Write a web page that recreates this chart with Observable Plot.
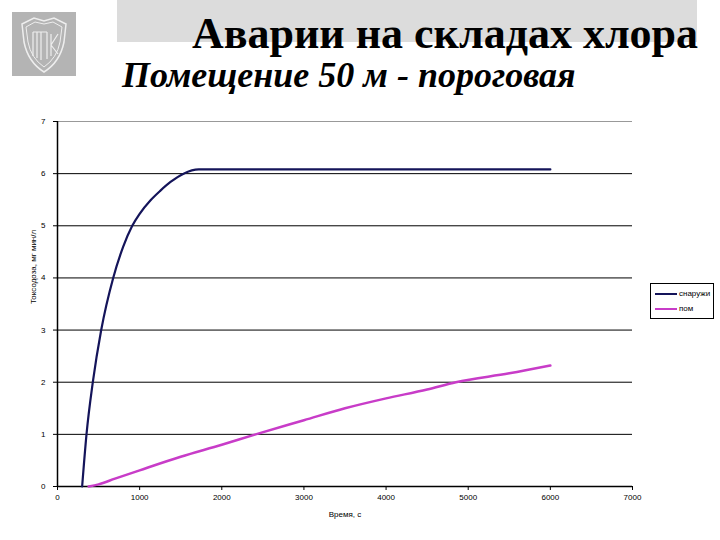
<!DOCTYPE html>
<html>
<head>
<meta charset="utf-8">
<script src="https://cdn.jsdelivr.net/npm/d3@7"></script>
<script src="https://cdn.jsdelivr.net/npm/@observablehq/plot@0.6"></script>
<style>
  html, body { margin: 0; padding: 0; background: #fff; }
  #wrap { position: relative; width: 720px; height: 540px; overflow: hidden; background: #fff; }
  #band { position: absolute; left: 117px; top: 0; width: 580px; height: 42px; background: #dcdcdc; }
  #title { position: absolute; left: 192px; top: 12px; font-family: "Liberation Serif", "DejaVu Serif", serif; font-weight: bold; font-size: 44px; color: #000; white-space: nowrap; line-height: 1; }
  #subtitle { position: absolute; left: 122px; top: 57px; font-family: "Liberation Serif", "DejaVu Serif", serif; font-weight: bold; font-style: italic; font-size: 36px; color: #000; white-space: nowrap; line-height: 1; }
  #logo { position: absolute; left: 12px; top: 12px; }
  #chart { position: absolute; left: 0; top: 0; }
  #legend { position: absolute; left: 650px; top: 283px; width: 64px; height: 36px; border: 1px solid #000; box-sizing: border-box; background: #fff; font-family: "Liberation Sans", Arial, sans-serif; font-size: 8px; }
  .li { position: absolute; left: 4px; display: flex; align-items: center; }
  .sw { width: 22px; height: 2px; margin-right: 2px; }
</style>
</head>
<body>
<div id="wrap">
  <div id="band"></div>
  <svg id="logo" width="64" height="64" viewBox="0 0 64 64">
    <rect x="0" y="0" width="64" height="64" fill="#b4b4b4"/>
    <path d="M10 12 L22 6 L32 9 L42 6 L54 12 L52 30 Q48 50 32 60 Q16 50 12 30 Z" fill="none" stroke="#eee" stroke-width="1.5"/>
    <path d="M14 15 L23 10 L32 12 L41 10 L50 15 L48 30 Q45 46 32 55 Q19 46 16 30 Z" fill="none" stroke="#eee" stroke-width="1"/>
    <path d="M21 20 L21 44 M25 20 L25 46 M29 20 L29 48 M21 20 L35 20 M35 20 L35 47 M39 22 L39 44 M39 33 L46 22 M39 33 L46 42" fill="none" stroke="#eee" stroke-width="1.2"/>
  </svg>
  <div id="title">Аварии на складах хлора</div>
  <div id="subtitle">Помещение 50 м - пороговая</div>
  <div id="chart"></div>
  <div id="legend">
    <div class="li" style="top:5px"><div class="sw" style="background:#14145a"></div>снаружи</div>
    <div class="li" style="top:20px"><div class="sw" style="background:#c83cc8"></div>пом</div>
  </div>
</div>
<script>
// Series: outside (снаружи)
const outsideTime = [300, 353, 430, 532, 678, 800, 910, 1000, 1133, 1250, 1376, 1535, 1720, 6000];
const outsideDose = [0, 1, 2, 3, 4, 4.6, 5.0, 5.23, 5.49, 5.67, 5.84, 6.0, 6.08, 6.08];
// Series: indoor (пом)
const roomTime = [380, 500, 700, 1000, 1500, 2000, 2412, 3000, 3500, 4000, 4500, 4850, 5500, 6000];
const roomDose = [0, 0.04, 0.15, 0.31, 0.57, 0.8, 1.0, 1.27, 1.5, 1.69, 1.86, 2.0, 2.17, 2.32];
// Ticks
const xTicks = [0, 1000, 2000, 3000, 4000, 5000, 6000, 7000];
const yTicks = [0, 1, 2, 3, 4, 5, 6, 7];
const xLabel = "Время, с";
const yLabel = "Токсодоза, мг мин/л";

const outside = outsideTime.map((t, i) => ({t, d: outsideDose[i]}));
const room = roomTime.map((t, i) => ({t, d: roomDose[i]}));

const plot = Plot.plot({
  width: 720,
  height: 540,
  marginLeft: 57,
  marginRight: 88,
  marginTop: 121,
  marginBottom: 54,
  style: { fontFamily: "Liberation Sans, Arial, sans-serif", fontSize: "8px", background: "transparent", color: "#000" },
  x: { domain: [0, 7000], ticks: xTicks, tickFormat: d => String(d), tickSize: 4, label: null },
  y: { domain: [0, 7], ticks: yTicks, tickFormat: d => String(d), tickSize: 4, label: null },
  marks: [
    Plot.ruleY(yTicks.filter(v => v > 0 && v < 7), { stroke: "#000", strokeWidth: 1 }),
    Plot.ruleY([7], { stroke: "#999", strokeWidth: 1 }),
    Plot.ruleX([0], { stroke: "#000", strokeWidth: 1.5 }),
    Plot.ruleY([0], { stroke: "#000", strokeWidth: 1.5 }),
    Plot.axisX({ ticks: xTicks, tickFormat: d => String(d), tickSize: 4, tickPadding: 4, label: null }),
    Plot.axisY({ ticks: yTicks, tickFormat: d => String(d), tickSize: 4, tickPadding: 8, label: null }),
    Plot.line(outside, { x: "t", y: "d", stroke: "#14145a", strokeWidth: 2.2, curve: "monotone-x" }),
    Plot.line(room, { x: "t", y: "d", stroke: "#c83cc8", strokeWidth: 2.5, curve: "monotone-x" }),
    Plot.text([xLabel], { frameAnchor: "bottom", dy: 30, text: d => d, fontSize: 8 }),
    Plot.text([yLabel], { frameAnchor: "left", dx: -24, rotate: -90, text: d => d, fontSize: 8 })
  ]
});
document.getElementById("chart").appendChild(plot);
</script>
</body>
</html>
